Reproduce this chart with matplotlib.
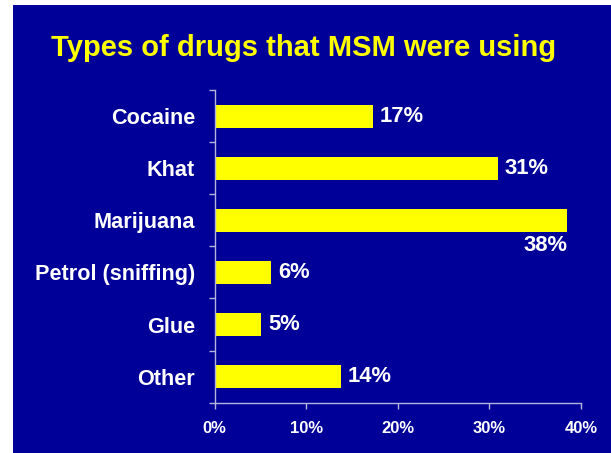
import matplotlib
matplotlib.use("Agg")
import matplotlib.pyplot as plt
from matplotlib.patches import Rectangle
import numpy as np

categories = ["Cocaine", "Khat", "Marijuana", "Petrol (sniffing)", "Glue", "Other"]
values = [17.3, 30.9, 38.5, 6.2, 5.1, 13.8]
value_labels = ["17%", "31%", "38%", "6%", "5%", "14%"]
xticks = [0, 10, 20, 30, 40]
xtick_labels = ["0%", "10%", "20%", "30%", "40%"]
title = "Types of drugs that MSM were using"

BG = "#000099"
YEL = "#FFFF00"
SPINE = "#B4B4DC"

plt.rcParams['font.family'] = ['Liberation Sans', 'DejaVu Sans']

fig = plt.figure(figsize=(6.11, 4.53), dpi=100)
fig.patch.set_facecolor(BG)
# white strips on the left and top edges
fig.patches.append(Rectangle((0, 0), 13/611, 1, transform=fig.transFigure,
                             facecolor="white", edgecolor="none", zorder=-10))
fig.patches.append(Rectangle((0, 1 - 5/453), 1, 5/453, transform=fig.transFigure,
                             facecolor="white", edgecolor="none", zorder=-10))

ax = fig.add_axes([214.5/611, 1 - 402.7/453, 366.5/611, (402.7 - 90)/453])
ax.set_facecolor(BG)

y = np.arange(len(categories))
ax.barh(y, values, height=0.44, color=YEL, edgecolor="none", zorder=2)

ax.set_xlim(0, 40)
ax.set_ylim(len(categories) - 0.5, -0.5)

for i, (v, lab) in enumerate(zip(values, value_labels)):
    if categories[i] == "Marijuana":
        ax.annotate(lab, xy=(v, i), xytext=(0, -15), textcoords="offset pixels",
                    ha="right", va="top", color="white", fontsize=15.8,
                    fontweight="bold")
    else:
        ax.annotate(lab, xy=(v, i), xytext=(7, 0), textcoords="offset pixels",
                    ha="left", va="center", color="white", fontsize=15.8,
                    fontweight="bold")

# y ticks at boundaries, labels at centers
ax.set_yticks(np.arange(-0.5, len(categories), 1.0))
ax.set_yticklabels([])
ax.set_yticks(y, minor=True)
ax.set_yticklabels(categories, minor=True)
ax.tick_params(axis="y", which="major", length=4, width=1, color=SPINE, direction="out")
ax.tick_params(axis="y", which="minor", length=0, pad=14, labelsize=15.6,
               labelcolor="white")
for t in ax.get_yticklabels(minor=True):
    t.set_fontweight("bold")

ax.set_xticks(xticks)
ax.set_xticklabels(xtick_labels)
ax.tick_params(axis="x", length=4, width=1, color=SPINE, direction="out",
               pad=9, labelsize=12, labelcolor="white")
for t in ax.get_xticklabels():
    t.set_fontweight("bold")

for s in ["top", "right"]:
    ax.spines[s].set_visible(False)
for s in ["left", "bottom"]:
    ax.spines[s].set_color(SPINE)
    ax.spines[s].set_linewidth(1)

fig.text(304/611, 1 - 48/453, title, ha="center", va="center", color=YEL,
         fontsize=21, fontweight="bold")

fig.savefig("out.png", dpi=100, facecolor=fig.get_facecolor())
